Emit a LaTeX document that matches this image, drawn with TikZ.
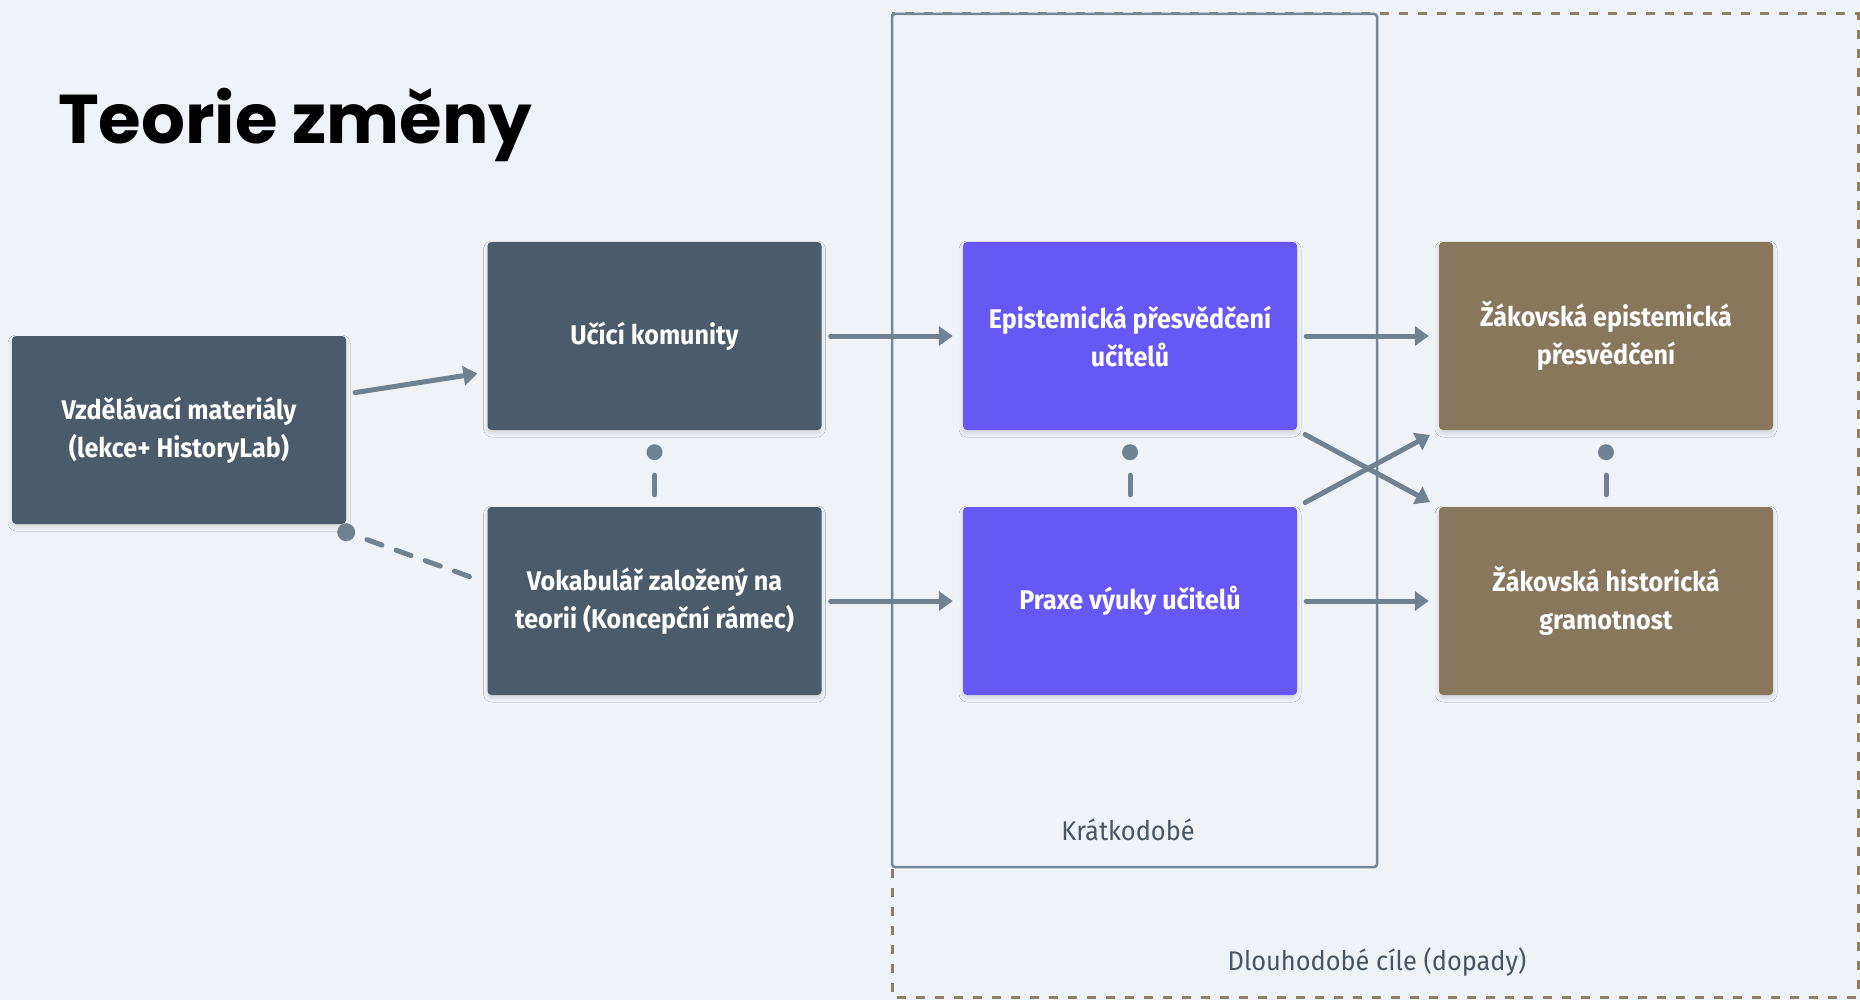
\documentclass[tikz,border=0pt]{standalone}
\usepackage{fontspec}
\usetikzlibrary{arrows.meta,calc,shadows.blur}
\newfontfamily\titlefont{Poppins}
\newfontfamily\boxfont{Fira Sans}[FakeStretch=0.93]
\newfontfamily\labfont{Fira Sans}[FakeStretch=0.94]
\definecolor{bgC}{HTML}{EFF3F7}
\definecolor{slateC}{HTML}{4A5B6B}
\definecolor{purpleC}{HTML}{6757F5}
\definecolor{brownC}{HTML}{88775C}
\definecolor{arrC}{HTML}{708292}
\definecolor{frameC}{HTML}{74869A}
\definecolor{dashC}{HTML}{8C7F68}
\definecolor{labC}{HTML}{4A5563}
\begin{document}
\begin{tikzpicture}[x=1pt,y=-1pt,
  box/.style={rounded corners=4pt, minimum width=334pt, minimum height=188pt,
    inner sep=0pt, text=white, align=center,
    font=\boxfont\bfseries\fontsize{27}{38}\selectfont,
    blur shadow={shadow xshift=0pt, shadow yshift=-3pt, shadow blur radius=4pt, shadow opacity=12}},
  slatebox/.style={box, fill=slateC},
  purplebox/.style={box, fill=purpleC},
  brownbox/.style={box, fill=brownC},
  conn/.style={draw=arrC, line width=5pt, line cap=round},
  arr/.style={conn, -{Triangle[length=14pt,width=19pt]}, shorten <=9pt, shorten >=10pt},
  lab/.style={text=labC, font=\labfont\fontsize{27}{32}\selectfont, inner sep=0pt}
]
\useasboundingbox (0,0) rectangle (1860,1000);
\fill[bgC] (0,0) rectangle (1860,1000);

% frames
\draw[dashC, line width=3pt, dash pattern=on 9pt off 10pt] (892,14) rectangle (1858,997);
\draw[frameC, fill=bgC, line width=2.5pt, rounded corners=3pt] (892,14) rectangle (1377,867);

% title
\node[anchor=base west, inner sep=0pt, font=\titlefont\bfseries\fontsize{69}{72}\selectfont] (title) at (58,144) {Teorie změny};

% boxes
\node[slatebox] (b1) at (179,430) {Vzdělávací materiály\\(lekce+ HistoryLab)};
\node[slatebox] (b2) at (654.5,336) {Učící komunity};
\node[slatebox] (b3) at (654.5,601) {Vokabulář založený na\\teorii (Koncepční rámec)};
\node[purplebox] (b4) at (1130,336) {Epistemická přesvědčení\\učitelů};
\node[purplebox] (b5) at (1130,601) {Praxe výuky učitelů};
\node[brownbox] (b6) at (1606,336) {Žákovská epistemická\\přesvědčení};
\node[brownbox] (b7) at (1606,601) {Žákovská historická\\gramotnost};

% labels
\node[lab] (kr) at (1128,830) {Krátkodobé};
\node[lab] (dl) at (1377,962) {Dlouhodobé cíle (dopady)};

% arrows
\draw[arr] ([yshift=36pt]b1.east) -- ([yshift=-36pt]b2.west);
\draw[arr] (b2.east) -- (b4.west);
\draw[arr] (b3.east) -- (b5.west);
\draw[arr] (b4.east) -- (b6.west);
\draw[arr] (b5.east) -- (b7.west);
\draw[arr] (b4.south east) -- (b7.north west);
\draw[arr] (b5.north east) -- (b6.south west);

% dot-dash links
\fill[arrC] ([yshift=-8pt]b1.south east) circle (9pt);
\draw[conn, dash pattern=on 16pt off 15pt, shorten <=22pt, shorten >=12pt]
  ([yshift=-8pt]b1.south east) -- ([yshift=18pt]b3.west);
\foreach \u/\l in {b2/b3, b4/b5, b6/b7}{
  \fill[arrC] ([yshift=-22pt]\u.south) circle (8pt);
  \draw[conn, shorten <=12pt, shorten >=45pt] (\l.north) -- (\u.south);
}
\end{tikzpicture}
\end{document}
